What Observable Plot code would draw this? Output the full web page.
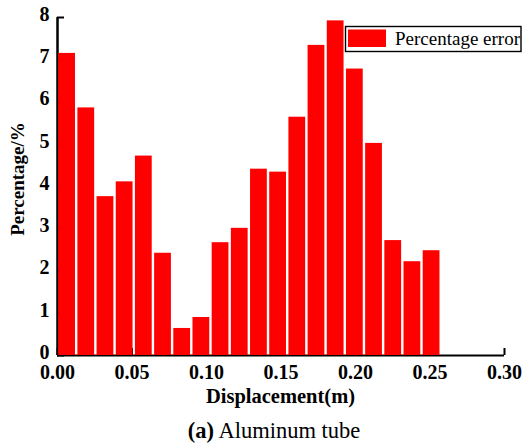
<!DOCTYPE html>
<html><head><meta charset="utf-8">
<script src="https://cdn.jsdelivr.net/npm/d3@7"></script>
<script src="https://cdn.jsdelivr.net/npm/@observablehq/plot@0.6"></script>
<style>
body{margin:0;background:#fff;}
</style></head>
<body><div id="chart"></div>
<script>
const binStart = 0;
const binWidth = 0.012875;
const values = [7.15, 5.86, 3.76, 4.11, 4.72, 2.42, 0.64, 0.90, 2.67, 3.01,
                4.41, 4.34, 5.64, 7.34, 7.92, 6.78, 5.02, 2.72, 2.22, 2.48];
const xTicks = [0, 0.05, 0.10, 0.15, 0.20, 0.25, 0.30];
const yTicks = [0, 1, 2, 3, 4, 5, 6, 7, 8];
const seriesName = "Percentage error";
const xLabel = "Displacement(m)";
const yLabel = "Percentage/%";
const captionTag = "(a)";
const captionText = " Aluminum tube";

const data = values.map((v, i) => ({x1: binStart + i * binWidth, x2: binStart + (i + 1) * binWidth, y: v}));

const W = 523, H = 444, mL = 57, mR = 19, mT = 17, mB = 89;
const fw = W - mL - mR, fh = H - mT - mB;
const SERIF = "'Liberation Serif', 'Times New Roman', serif";

const plot = Plot.plot({
  width: W, height: H,
  marginLeft: mL, marginRight: mR, marginTop: mT, marginBottom: mB,
  x: {domain: [0, 0.3], ticks: xTicks, tickFormat: d3.format(".2f")},
  y: {domain: [0, 8], ticks: yTicks, tickFormat: d3.format("d")},
  marks: [
    Plot.ruleY([0], {stroke: "black", strokeWidth: 2}),
    Plot.ruleX([0], {stroke: "black", strokeWidth: 2.5}),
    Plot.tickX(xTicks, {x: d => d, insetTop: fh - 7, stroke: "black", strokeWidth: 2}),
    Plot.tickY(yTicks, {y: d => d, insetRight: fw - 7, stroke: "black", strokeWidth: 2}),
    Plot.rectY(data, {x1: "x1", x2: "x2", y: "y", fill: "#ff0000", insetLeft: 1.2, insetRight: 1.2}),
    Plot.axisX({ticks: xTicks, tickSize: 0, tickPadding: 9, label: null, tickFormat: d3.format(".2f")}),
    Plot.axisY({ticks: yTicks, tickSize: 0, tickPadding: 8, dy: -3, label: null, tickFormat: d3.format("d")})
  ]
});

const svg = d3.select(plot);
svg.style("font-family", SERIF).style("background", "white");
svg.selectAll("g").each(function() {
  const g = d3.select(this);
  if (g.attr("font-size")) g.attr("font-size", null);
});
svg.selectAll("text")
  .style("font-family", SERIF).style("font-size", "20px").style("font-weight", "bold");

svg.append("text").attr("x", mL + fw / 2).attr("y", 403)
  .attr("text-anchor", "middle").style("font-size", "20.5px").style("font-weight", "bold").text(xLabel);
svg.append("text").attr("transform", `translate(24,179) rotate(-90)`)
  .attr("text-anchor", "middle").style("font-size", "19px").style("font-weight", "bold").text(yLabel);

const cap = svg.append("text").attr("x", 274).attr("y", 438).attr("text-anchor", "middle").style("font-size", "22.5px");
cap.append("tspan").style("font-weight", "bold").text(captionTag);
cap.append("tspan").text(captionText);

const lg = svg.append("g");
lg.append("rect").attr("x", 345.5).attr("y", 26.5).attr("width", 175.5).attr("height", 25).attr("fill", "white").attr("stroke", "black").attr("stroke-width", 1.4);
lg.append("rect").attr("x", 348).attr("y", 29.5).attr("width", 38).attr("height", 17.5).attr("fill", "#ff0000");
lg.append("text").attr("x", 395).attr("y", 45).attr("text-anchor", "start").style("font-size", "19px").text(seriesName);

svg.selectAll("text").style("font-family", SERIF);

document.getElementById("chart").appendChild(plot);
</script></body></html>
